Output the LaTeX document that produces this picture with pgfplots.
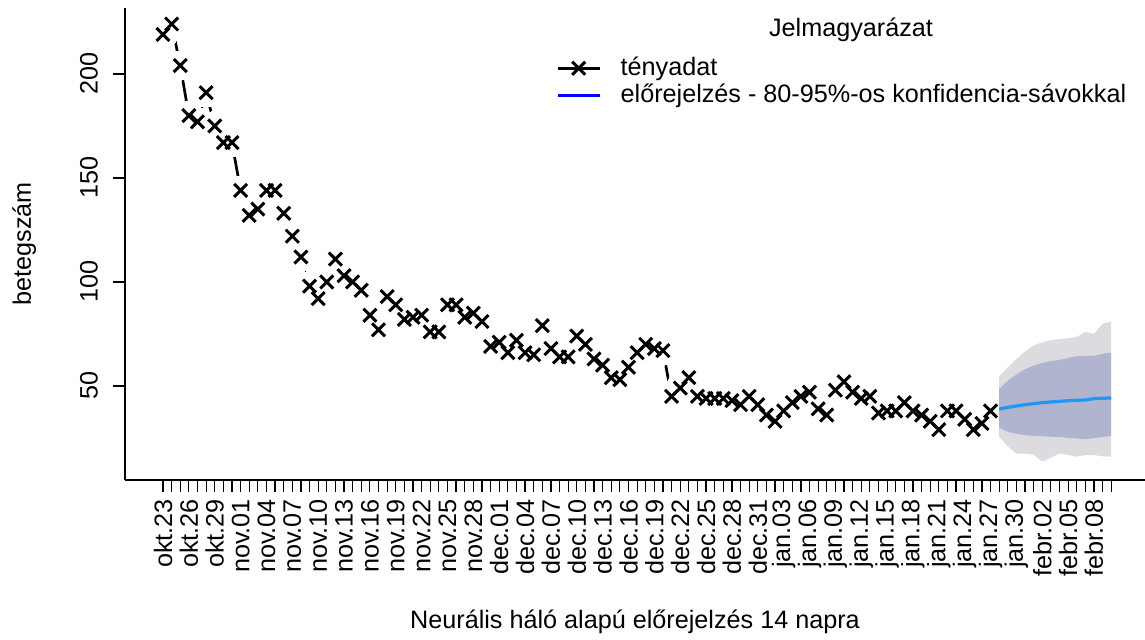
\documentclass[border=0pt]{standalone}
\usepackage{pgfplots}
\pgfplotsset{compat=1.18}
\usepackage{pgfplotstable}
\usepackage{fontspec}
\setmainfont{Liberation Sans}
\definecolor{bandA}{RGB}{219,219,224}
\definecolor{bandB}{RGB}{176,180,206}
\definecolor{fcline}{RGB}{33,150,243}
\newcommand\fs{\fontsize{12.6pt}{15.2pt}\selectfont}

\pgfplotstableread{
i v
0 219
1 224
2 204
3 180
4 177
5 191
6 175
7 167
8 167
9 144
10 132
11 135
12 144
13 144
14 133
15 122
16 112
17 98
18 92
19 100
20 111
21 103
22 100
23 96
24 84
25 77
26 93
27 89
28 82
29 83
30 84
31 76
32 76
33 89
34 89
35 83
36 85
37 81
38 69
39 71
40 66
41 72
42 66
43 65
44 79
45 68
46 64
47 64
48 74
49 70
50 63
51 60
52 54
53 53
54 59
55 66
56 70
57 68
58 67
59 45
60 49
61 54
62 45
63 44
64 44
65 44
66 43
67 41
68 45
69 41
70 36
71 33
72 38
73 42
74 45
75 47
76 39
77 36
78 48
79 52
80 47
81 44
82 45
83 37
84 38
85 38
86 42
87 38
88 36
89 33
90 29
91 38
92 38
93 34
94 29
95 32
96 38
}\actual

% forecast mean
\pgfplotstableread{
i mean
97 38.9
98 39.7
99 40.4
100 41.0
101 41.5
102 42.0
103 42.3
104 42.6
105 42.9
106 43.1
107 43.3
108 43.9
109 44.1
110 44.2
}\fc

% 95% band: upper bound forward, then lower bound backward
\pgfplotstableread{
i y
97 54.5
98 59.0
99 63.0
100 66.5
101 69.5
102 71.0
103 72.0
104 72.5
105 73.0
106 73.5
107 76.0
108 75.0
109 80.0
110 81.0
110 16.0
109 16.2
108 16.8
107 16.8
106 16.0
105 16.8
104 17.6
103 15.5
102 13.6
101 17.0
100 17.5
99 17.5
98 21.0
97 25.5
}\bandNF

% 80% band: upper bound forward, then lower bound backward
\pgfplotstableread{
i y
97 48.5
98 52.5
99 55.5
100 58.0
101 59.8
102 61.0
103 62.0
104 62.5
105 63.5
106 64.3
107 64.5
108 64.5
109 65.5
110 66.0
110 26.0
109 25.5
108 25.0
107 24.4
106 24.8
105 25.0
104 25.5
103 25.6
102 25.8
101 26.0
100 26.3
99 27.0
98 28.0
97 30.0
}\bandEI

\begin{document}
\begin{tikzpicture}
\begin{axis}[
  at={(62.5pt,80pt)}, anchor=south west,
  width=510pt, height=236pt, scale only axis,
  xmin=-4.41, xmax=113.92, ymin=4.8, ymax=231.7,
  clip marker paths=true,
  axis lines=left, axis line style={-, line width=0.9pt},
  tick align=outside,
  xtick={0,3,...,108}, minor xtick={0,...,110},
  major tick length=6pt, minor tick length=6pt,
  every tick/.style={black, line width=0.6pt},
  minor tick style={black, line width=0.6pt},
  xticklabels={okt.23,okt.26,okt.29,nov.01,nov.04,nov.07,nov.10,nov.13,nov.16,nov.19,nov.22,nov.25,nov.28,dec.01,dec.04,dec.07,dec.10,dec.13,dec.16,dec.19,dec.22,dec.25,dec.28,dec.31,jan.03,jan.06,jan.09,jan.12,jan.15,jan.18,jan.21,jan.24,jan.27,jan.30,febr.02,febr.05,febr.08},
  xticklabel style={rotate=90, anchor=east, font=\fs},
  ytick={50,100,150,200},
  yticklabel style={rotate=90, anchor=south, font=\fs},
  yticklabel shift=4pt,
  /pgf/number format/assume math mode=true,
  xlabel={Neurális háló alapú előrejelzés 14 napra},
  xlabel style={at={(axis description cs:0.5,-0.3136)}, anchor=base, font=\fs},
  ylabel={betegszám},
  ylabel style={at={(axis description cs:-0.0922,0.5)}, anchor=base, font=\fs},
  legend style={at={(rel axis cs:0.4225,0.899)}, anchor=north west, draw=none, fill=none,
    font=\fs, row sep=1.5pt, column sep=9.8pt, inner sep=0pt,
    nodes={inner sep=0pt, text height=9.5pt, text depth=2.7pt}},
  legend cell align=left,
  legend image code/.code={\draw[mark repeat=2,mark phase=2,#1] plot coordinates {(0pt,0pt)(10.5pt,0pt)(21pt,0pt)};},
]
\addlegendimage{black, line width=1.35pt, mark=x, mark size=4.6pt, mark options={line width=1.5pt}}
\addlegendentry{tényadat}
\addlegendimage{blue, line width=1.35pt}
\addlegendentry{előrejelzés - 80-95\%-os konfidencia-sávokkal}

\addplot[black, line width=1.35pt, forget plot] table[x=i, y=v] {\actual};
\addplot[only marks, mark=*, mark size=7.25pt, mark options={fill=white, draw=white, line width=0pt}, forget plot] table[x=i, y=v] {\actual};

\addplot[fill=bandA, draw=none, forget plot] table[x=i, y=y] {\bandNF};
\addplot[fill=bandB, draw=none, forget plot] table[x=i, y=y] {\bandEI};
\addplot[fcline, line width=1.6pt, forget plot] table[x=i, y=mean] {\fc};

\addplot[only marks, mark=x, mark size=4.6pt, mark options={black, line width=1.5pt}, forget plot] table[x=i, y=v] {\actual};

\node[font=\fs] at (rel axis cs:0.7118,0.9534) {Jelmagyarázat};
\end{axis}
\pgfresetboundingbox
\useasboundingbox (0,0) rectangle (572.5pt,320pt);
\end{tikzpicture}
\end{document}
